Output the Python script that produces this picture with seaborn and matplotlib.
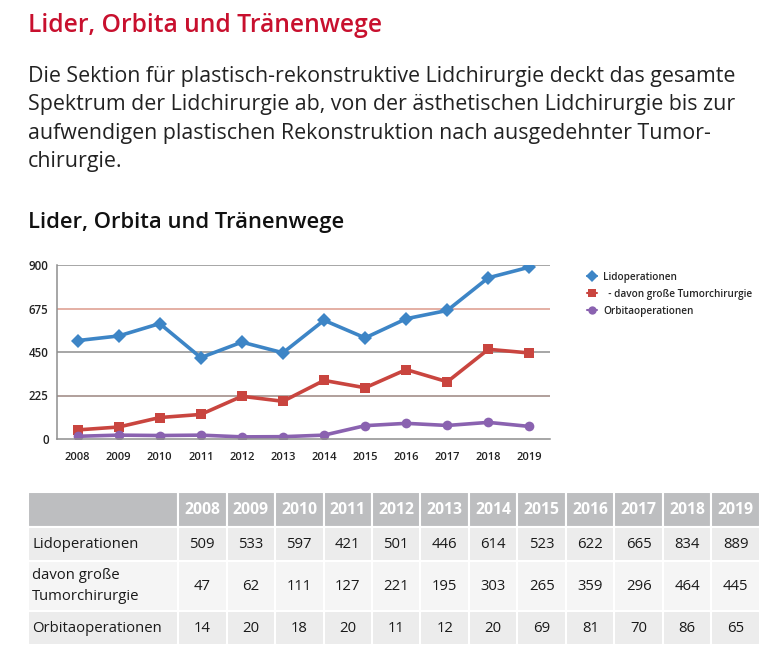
import pandas as pd
import matplotlib
matplotlib.use("Agg")
from matplotlib import pyplot as plt
from matplotlib.lines import Line2D
from matplotlib.table import Table
import seaborn as sns

years = [2008, 2009, 2010, 2011, 2012, 2013, 2014, 2015, 2016, 2017, 2018, 2019]
lidoperationen = [509, 533, 597, 421, 501, 446, 614, 523, 622, 665, 834, 889]
tumorchirurgie = [47, 62, 111, 127, 221, 195, 303, 265, 359, 296, 464, 445]
orbitaoperationen = [14, 20, 18, 20, 11, 12, 20, 69, 81, 70, 86, 65]
y_ticks = [0, 225, 450, 675, 900]
legend_names = ["Lidoperationen", "  - davon große Tumorchirurgie", "Orbitaoperationen"]
row_labels = ["Lidoperationen", "davon große\nTumorchirurgie", "Orbitaoperationen"]

title = "Lider, Orbita und Tränenwege"
paragraph = ["Die Sektion für plastisch-rekonstruktive Lidchirurgie deckt das gesamte",
             "Spektrum der Lidchirurgie ab, von der ästhetischen Lidchirurgie bis zur",
             "aufwendigen plastischen Rekonstruktion nach ausgedehnter Tumor-",
             "chirurgie."]

colors = ["#3d85c6", "#c9453f", "#8a62b0"]
markers = ["D", "s", "o"]

sns.set_theme(style="white")
plt.rcParams["font.family"] = ["Open Sans", "DejaVu Sans"]

W, H = 773, 667
fig = plt.figure(figsize=(W / 100, H / 100), dpi=100)
fig.patch.set_facecolor("white")

def fx(px):
    return px / W

def fy(py):
    return 1 - py / H

# header texts
fig.text(fx(28), fy(32), title, color="#c8102e", fontsize=17.7, fontweight="semibold", va="baseline")
for i, line in enumerate(paragraph):
    fig.text(fx(28), fy(82 + i * 28.3), line, color="#222222", fontsize=15.4, va="baseline")
fig.text(fx(28), fy(228), title, color="#111111", fontsize=15.8, fontweight="semibold", va="baseline")

# line chart
df = pd.DataFrame({
    "Jahr": years * 3,
    "Anzahl": lidoperationen + tumorchirurgie + orbitaoperationen,
    "Serie": [legend_names[0]] * len(years) + [legend_names[1]] * len(years) + [legend_names[2]] * len(years),
})

ax = fig.add_axes([fx(57), fy(439), fx(550) - fx(57), fy(265) - fy(439)])
for y, c in zip(y_ticks[1:], ["#9b8580", "#8e8e8e", "#dc9a8c", "#8e8e8e"]):
    ax.axhline(y, color=c, lw=1.1, zorder=0)

sns.lineplot(data=df, x="Jahr", y="Anzahl", hue="Serie", style="Serie",
             palette=colors, markers=markers, dashes=False, linewidth=2.6,
             markersize=7, markeredgewidth=0, legend=False, ax=ax)

ax.set_xlim(years[0] - 0.5, years[-1] + 0.5)
ax.set_ylim(0, 900)
ax.set_yticks(y_ticks)
ax.set_xticks(years)
ax.set_xticks([y - 0.5 for y in years] + [years[-1] + 0.5], minor=True)
ax.tick_params(axis="x", which="major", length=0, pad=9, labelsize=8)
ax.tick_params(axis="x", which="minor", length=4, width=0.8, color="#8e8e8e", direction="out")
ax.tick_params(axis="y", length=0, pad=6, labelsize=8.3)
for lab in ax.get_xticklabels() + ax.get_yticklabels():
    lab.set_fontweight("semibold")
    lab.set_color("#222222")
ax.set_xlabel("")
ax.set_ylabel("")
for s in ["top", "right"]:
    ax.spines[s].set_visible(False)
for s in ["left", "bottom"]:
    ax.spines[s].set_color("#8e8e8e")
    ax.spines[s].set_linewidth(1.1)

handles = [Line2D([0], [0], color=c, marker=m, lw=1.5, markersize=6, markeredgewidth=0)
           for c, m in zip(colors, markers)]
fig.legend(handles, legend_names, loc="upper left", bbox_to_anchor=(fx(578), fy(263)),
           frameon=False, handlelength=1.0, handletextpad=0.6,
           labelspacing=0.6, prop={"weight": "semibold", "size": 7.2})

# table
ax_t = fig.add_axes([fx(28), fy(645), fx(760) - fx(28), fy(492) - fy(645)])
ax_t.axis("off")
tbl = Table(ax_t, bbox=[0, 0, 1, 1])

grid = [[""] + [str(y) for y in years]]
for label, vals in zip(row_labels, (lidoperationen, tumorchirurgie, orbitaoperationen)):
    grid.append([label] + [str(v) for v in vals])

row_h = [35, 34, 50, 34]
row_bg = ["#bdbec0", "#ececec", "#f5f5f5", "#ececec"]
for r, row in enumerate(grid):
    for c, val in enumerate(row):
        w = 150 if c == 0 else 48.5
        cell = tbl.add_cell(r, c, width=w, height=row_h[r], text=val,
                            loc="left" if c == 0 else "center",
                            facecolor=row_bg[r], edgecolor="white")
        cell.set_linewidth(1.5)
        txt = cell.get_text()
        if r == 0:
            txt.set_fontsize(11.3)
            txt.set_color("white")
            txt.set_fontweight("bold")
        else:
            txt.set_fontsize(10.7)
            txt.set_color("#1a1a1a")
        if c == 0:
            cell.PAD = 4 / 150
            txt.set_linespacing(1.6)
tbl.auto_set_font_size(False)
ax_t.add_table(tbl)

fig.savefig("out.png", dpi=100)
